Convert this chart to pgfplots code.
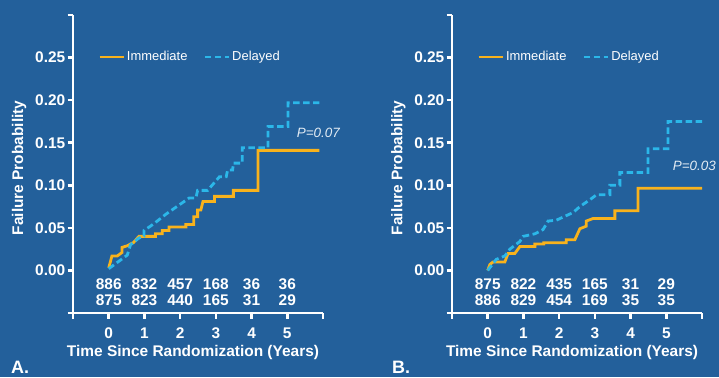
\documentclass[border=0pt]{standalone}
\usepackage{pgfplots}
\pgfplotsset{compat=1.18}
\usepackage{fontspec}
\setmainfont{Liberation Sans}
\definecolor{bg}{HTML}{23609B}
\definecolor{orng}{HTML}{F8B21C}
\definecolor{cyn}{HTML}{2BB7E9}
\definecolor{ptxt}{HTML}{E3ECF4}
\newcommand\bfont{\fontsize{15.5}{15.5}\selectfont\bfseries}
\newcommand\lfont{\fontsize{13}{13}\selectfont}
\tikzset{cnt/.style={font=\bfont, text=white},
  ptx/.style={font=\fontsize{13.5}{13.5}\selectfont\itshape, text=ptxt}}
\pgfplotsset{
  kmstyle/.style={
    scale only axis, width=250bp, height=298bp,
    xmin=-1, xmax=6, ymin=-0.05, ymax=0.30,
    axis lines=left, clip=false,
    axis line style={draw=white, line width=2.5bp, -},
    tick style={draw=white, line width=2.5bp},
    tick align=outside, major tick length=5.5bp,
    xtick={-1,0,1,2,3,4,5,6},
    xticklabels={,\textbf{0},\textbf{1},\textbf{2},\textbf{3},\textbf{4},\textbf{5},},
    ytick={-0.05,0,0.05,0.10,0.15,0.20,0.25,0.30},
    yticklabels={,\textbf{0.00},\textbf{0.05},\textbf{0.10},\textbf{0.15},\textbf{0.20},\textbf{0.25},},
    ticklabel style={font=\bfont, text=white},
    yticklabel style={inner sep=1bp, xshift=-1bp},
    xticklabel style={inner sep=2bp, yshift=-7bp},
    every axis x label/.style={at={(axis description cs:0.48,-0.131)}, anchor=center, font=\bfont, text=white},
    every axis y label/.style={at={(axis description cs:-0.215,0.487)}, anchor=center, rotate=90, font=\bfont, text=white},
    xlabel={Time Since Randomization (Years)},
    ylabel={Failure Probability},
    legend style={draw=none, fill=none, inner sep=0pt, at={(rel axis cs:0.1,0.859)}, anchor=west,
      font=\lfont, text=white, /tikz/every even column/.append style={column sep=14bp}},
    legend columns=2, legend cell align=left,
    legend image code/.code={\draw[##1] (0bp,0bp) -- (24bp,0bp);},
  },
  imm/.style={orng, line width=2.8bp, line join=miter},
  del/.style={cyn, line width=2.8bp, dash pattern=on 6.5bp off 3.5bp, line join=miter},
}
\begin{document}
\begin{tikzpicture}[x=1bp,y=1bp]
\useasboundingbox (0,0) rectangle (719,377);
\fill[bg] (0,0) rectangle (719,377);
% Panel A
\begin{axis}[kmstyle, at={(73bp,64bp)}, anchor=south west]
\addplot[imm] coordinates {(0,0.003) (0.09,0.017) (0.24,0.017) (0.37,0.021) (0.37,0.027) (0.52,0.029) (0.70,0.033) (0.845,0.040) (1.31,0.040) (1.31,0.043) (1.50,0.043) (1.50,0.047) (1.69,0.047) (1.69,0.051) (2.16,0.051) (2.16,0.054) (2.38,0.054) (2.38,0.063) (2.49,0.063) (2.49,0.071) (2.58,0.071) (2.64,0.081) (2.96,0.081) (2.96,0.087) (3.49,0.087) (3.49,0.094) (4.18,0.094) (4.18,0.141) (5.9,0.141)};
\addlegendentry{Immediate}
\addplot[del] coordinates {(0,0.002) (0.52,0.018) (0.61,0.030) (0.845,0.038) (0.99,0.040) (0.99,0.047) (1.17,0.052) (1.36,0.058) (1.60,0.066) (2.25,0.085) (2.44,0.085) (2.49,0.094) (2.77,0.094) (3.10,0.110) (3.29,0.110) (3.33,0.118) (3.47,0.118) (3.49,0.126) (3.74,0.126) (3.74,0.144) (4.46,0.144) (4.46,0.169) (5.02,0.169) (5.02,0.197) (5.9,0.197)};
\addlegendentry{Delayed}
\node[ptx] at (axis cs:5.87,0.162) {P=0.07};
\node[cnt] at (axis cs:0,-0.0164) {886};
\node[cnt] at (axis cs:1,-0.0164) {832};
\node[cnt] at (axis cs:2,-0.0164) {457};
\node[cnt] at (axis cs:3,-0.0164) {168};
\node[cnt] at (axis cs:4,-0.0164) {36};
\node[cnt] at (axis cs:5,-0.0164) {36};
\node[cnt] at (axis cs:0,-0.0352) {875};
\node[cnt] at (axis cs:1,-0.0352) {823};
\node[cnt] at (axis cs:2,-0.0352) {440};
\node[cnt] at (axis cs:3,-0.0352) {165};
\node[cnt] at (axis cs:4,-0.0352) {31};
\node[cnt] at (axis cs:5,-0.0352) {29};
\end{axis}
% Panel B
\begin{axis}[kmstyle, at={(452bp,64bp)}, anchor=south west]
\addplot[imm] coordinates {(0,0) (0.06,0.007) (0.15,0.010) (0.48,0.010) (0.57,0.020) (0.76,0.020) (0.90,0.028) (1.32,0.028) (1.32,0.031) (1.57,0.031) (1.57,0.0325) (2.20,0.0325) (2.20,0.036) (2.44,0.036) (2.58,0.049) (2.76,0.052) (2.76,0.058) (2.95,0.061) (3.56,0.061) (3.56,0.070) (4.21,0.070) (4.21,0.0966) (6.0,0.0966)};
\addlegendentry{Immediate}
\addplot[del] coordinates {(0,0) (0.24,0.013) (0.48,0.017) (0.62,0.025) (0.90,0.034) (0.99,0.040) (1.32,0.043) (1.55,0.048) (1.69,0.058) (1.92,0.059) (2.39,0.068) (2.58,0.075) (2.86,0.083) (3.05,0.089) (3.42,0.089) (3.42,0.100) (3.70,0.100) (3.70,0.115) (4.49,0.115) (4.49,0.143) (5.05,0.143) (5.05,0.175) (6.0,0.175)};
\addlegendentry{Delayed}
\node[ptx, anchor=east, inner sep=1bp] at (axis cs:6.42,0.123) {P=0.03};
\node[cnt] at (axis cs:0,-0.0164) {875};
\node[cnt] at (axis cs:1,-0.0164) {822};
\node[cnt] at (axis cs:2,-0.0164) {435};
\node[cnt] at (axis cs:3,-0.0164) {165};
\node[cnt] at (axis cs:4,-0.0164) {31};
\node[cnt] at (axis cs:5,-0.0164) {29};
\node[cnt] at (axis cs:0,-0.0352) {886};
\node[cnt] at (axis cs:1,-0.0352) {829};
\node[cnt] at (axis cs:2,-0.0352) {454};
\node[cnt] at (axis cs:3,-0.0352) {169};
\node[cnt] at (axis cs:4,-0.0352) {35};
\node[cnt] at (axis cs:5,-0.0352) {35};
\end{axis}
\node[font=\fontsize{18}{18}\selectfont\bfseries, text=white, anchor=base west, inner sep=0pt] at (11bp,4bp) {A.};
\node[font=\fontsize{18}{18}\selectfont\bfseries, text=white, anchor=base west, inner sep=0pt] at (392bp,4bp) {B.};
\end{tikzpicture}
\end{document}
